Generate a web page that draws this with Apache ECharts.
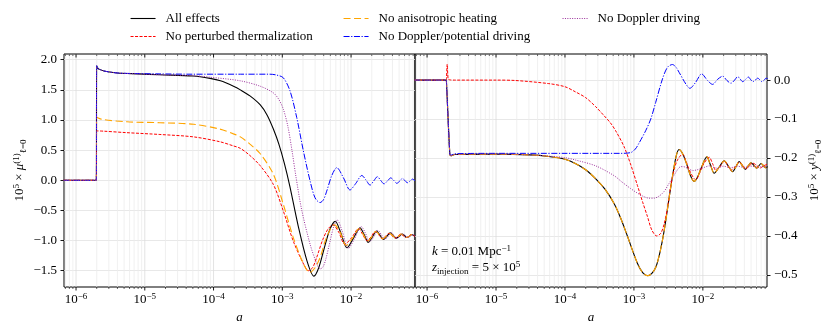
<!DOCTYPE html>
<html>
<head>
<meta charset="utf-8">
<script src="https://cdn.jsdelivr.net/npm/echarts@6/dist/echarts.min.js"></script>
<style>
  html, body { margin: 0; padding: 0; background: #fff; }
  #chart { width: 831px; height: 331px; }
</style>
</head>
<body>
<div id="chart"></div>
<script>

// left panel: 10^5 x mu
const muAll = [[-6.18,0],[-5.72,0],[-5.705,0],[-5.70,1.90],[-5.69,1.87],[-5.66,1.84],[-5.58,1.81],[-5.40,1.78],[-5.10,1.765],[-4.78,1.75],[-4.30,1.73],[-4.05,1.69],[-3.90,1.65],[-3.71,1.56],[-3.61,1.50],[-3.47,1.40],[-3.32,1.25],[-3.22,1.08],[-3.13,0.85],[-3.05,0.60],[-2.97,0.28],[-2.89,-0.10],[-2.77,-0.75],[-2.64,-1.34],[-2.54,-1.59],[-2.47,-1.45],[-2.40,-1.17],[-2.31,-0.82],[-2.23,-0.68],[-2.15,-0.87],[-2.06,-1.12],[-1.97,-0.97],[-1.87,-0.79],[-1.81,-0.90],[-1.75,-1.03],[-1.69,-0.94],[-1.63,-0.84],[-1.58,-0.91],[-1.53,-0.98],[-1.48,-0.93],[-1.43,-0.87],[-1.39,-0.92],[-1.345,-0.96],[-1.30,-0.93],[-1.26,-0.89],[-1.22,-0.92],[-1.19,-0.95],[-1.15,-0.93],[-1.12,-0.90],[-1.07,-0.93]];
const muNoTherm = [[-6.18,0],[-5.72,0],[-5.705,0],[-5.70,0.82],[-5.69,0.82],[-5.60,0.815],[-5.26,0.79],[-4.78,0.76],[-4.29,0.72],[-3.91,0.64],[-3.71,0.57],[-3.61,0.53],[-3.47,0.41],[-3.32,0.24],[-3.13,-0.07],[-2.985,-0.51],[-2.84,-1.01],[-2.69,-1.39],[-2.62,-1.50],[-2.56,-1.45],[-2.50,-1.28],[-2.41,-0.98],[-2.33,-0.80],[-2.26,-0.74],[-2.18,-0.86],[-2.09,-1.06],[-1.99,-0.95],[-1.89,-0.80],[-1.83,-0.90],[-1.77,-1.00],[-1.71,-0.94],[-1.65,-0.85],[-1.60,-0.90],[-1.55,-0.97],[-1.50,-0.93],[-1.45,-0.88],[-1.40,-0.92],[-1.36,-0.96],[-1.32,-0.93],[-1.28,-0.89],[-1.24,-0.92],[-1.20,-0.95],[-1.16,-0.93],[-1.13,-0.90],[-1.07,-0.93]];
const muNoAniso = [[-6.18,0],[-5.72,0],[-5.705,0],[-5.70,1.05],[-5.69,1.04],[-5.62,1.01],[-5.26,0.97],[-4.78,0.955],[-4.29,0.93],[-3.91,0.85],[-3.71,0.77],[-3.61,0.72],[-3.47,0.60],[-3.32,0.44],[-3.13,0.10],[-2.985,-0.40],[-2.84,-0.95],[-2.69,-1.39],[-2.60,-1.53],[-2.53,-1.46],[-2.45,-1.28],[-2.38,-1.02],[-2.305,-0.82],[-2.24,-0.74],[-2.16,-0.86],[-2.07,-1.08],[-1.98,-0.96],[-1.88,-0.80],[-1.82,-0.90],[-1.76,-1.01],[-1.70,-0.94],[-1.64,-0.85],[-1.59,-0.90],[-1.54,-0.97],[-1.49,-0.93],[-1.44,-0.88],[-1.39,-0.92],[-1.35,-0.96],[-1.31,-0.93],[-1.27,-0.89],[-1.23,-0.92],[-1.19,-0.95],[-1.15,-0.93],[-1.12,-0.90],[-1.07,-0.93]];
const muNoDopPot = [[-6.18,0],[-5.72,0],[-5.705,0],[-5.70,1.90],[-5.69,1.87],[-5.66,1.84],[-5.58,1.81],[-5.40,1.78],[-5.10,1.77],[-4.78,1.765],[-4.30,1.76],[-3.61,1.76],[-3.18,1.76],[-3.08,1.745],[-2.985,1.70],[-2.887,1.48],[-2.79,1.04],[-2.694,0.49],[-2.596,-0.01],[-2.524,-0.29],[-2.451,-0.37],[-2.40,-0.32],[-2.354,-0.18],[-2.28,0.08],[-2.208,0.21],[-2.11,0.04],[-2.015,-0.16],[-1.93,-0.05],[-1.844,0.08],[-1.78,0.0],[-1.724,-0.08],[-1.67,-0.01],[-1.617,0.06],[-1.57,0.0],[-1.52,-0.06],[-1.47,-0.01],[-1.423,0.04],[-1.38,0.0],[-1.335,-0.05],[-1.29,-0.01],[-1.254,0.03],[-1.22,0.0],[-1.181,-0.04],[-1.14,-0.01],[-1.108,0.02],[-1.07,-0.01]];
const muNoDop = [[-6.18,0],[-5.72,0],[-5.705,0],[-5.70,1.90],[-5.69,1.87],[-5.66,1.84],[-5.58,1.81],[-5.40,1.78],[-5.10,1.765],[-4.78,1.75],[-4.30,1.735],[-4.05,1.71],[-3.61,1.65],[-3.32,1.56],[-3.13,1.45],[-3.05,1.34],[-2.985,1.18],[-2.92,0.90],[-2.86,0.50],[-2.80,0.05],[-2.72,-0.48],[-2.596,-1.06],[-2.50,-1.38],[-2.45,-1.47],[-2.41,-1.44],[-2.37,-1.32],[-2.305,-1.01],[-2.25,-0.76],[-2.20,-0.66],[-2.13,-0.84],[-2.04,-1.13],[-1.95,-0.97],[-1.85,-0.77],[-1.79,-0.88],[-1.73,-1.02],[-1.67,-0.94],[-1.61,-0.83],[-1.56,-0.90],[-1.51,-0.98],[-1.46,-0.93],[-1.41,-0.87],[-1.37,-0.92],[-1.33,-0.96],[-1.29,-0.93],[-1.25,-0.89],[-1.21,-0.92],[-1.17,-0.95],[-1.14,-0.93],[-1.10,-0.90],[-1.07,-0.93]];

// right panel: 10^5 x y
const yAll = [[-6.18,0],[-5.72,0],[-5.713,0],[-5.67,-0.19],[-5.655,-0.194],[-5.60,-0.191],[-5.00,-0.19],[-4.50,-0.192],[-4.235,-0.196],[-4.00,-0.203],[-3.85,-0.214],[-3.70,-0.23],[-3.55,-0.254],[-3.42,-0.28],[-3.29,-0.316],[-3.19,-0.355],[-3.095,-0.40],[-2.95,-0.47],[-2.87,-0.495],[-2.80,-0.502],[-2.74,-0.496],[-2.68,-0.479],[-2.62,-0.44],[-2.56,-0.385],[-2.465,-0.274],[-2.39,-0.197],[-2.345,-0.178],[-2.29,-0.19],[-2.236,-0.215],[-2.18,-0.245],[-2.127,-0.26],[-2.08,-0.25],[-2.03,-0.228],[-1.942,-0.197],[-1.889,-0.218],[-1.836,-0.239],[-1.763,-0.223],[-1.69,-0.207],[-1.63,-0.221],[-1.568,-0.235],[-1.52,-0.222],[-1.472,-0.209],[-1.43,-0.219],[-1.385,-0.229],[-1.343,-0.22],[-1.302,-0.212],[-1.26,-0.219],[-1.219,-0.226],[-1.188,-0.22],[-1.156,-0.214],[-1.12,-0.22],[-1.09,-0.225],[-1.06,-0.222]];
const yNoTherm = [[-6.18,0],[-5.72,0],[-5.713,0],[-5.708,0.041],[-5.70,0.015],[-5.69,0.002],[-5.60,0.0],[-5.00,0.0],[-4.72,-0.001],[-4.235,-0.009],[-4.00,-0.017],[-3.85,-0.03],[-3.70,-0.045],[-3.556,-0.068],[-3.44,-0.09],[-3.34,-0.11],[-3.265,-0.13],[-3.145,-0.17],[-3.05,-0.215],[-2.95,-0.27],[-2.87,-0.315],[-2.804,-0.35],[-2.74,-0.385],[-2.669,-0.40],[-2.61,-0.393],[-2.563,-0.37],[-2.51,-0.325],[-2.465,-0.27],[-2.41,-0.225],[-2.368,-0.205],[-2.295,-0.19],[-2.25,-0.205],[-2.199,-0.23],[-2.102,-0.256],[-2.05,-0.24],[-2.004,-0.22],[-1.908,-0.198],[-1.86,-0.214],[-1.811,-0.232],[-1.75,-0.222],[-1.69,-0.208],[-1.64,-0.219],[-1.593,-0.231],[-1.53,-0.222],[-1.472,-0.211],[-1.42,-0.219],[-1.375,-0.228],[-1.33,-0.221],[-1.277,-0.213],[-1.22,-0.219],[-1.17,-0.226],[-1.12,-0.22],[-1.06,-0.216]];
const yNoAniso = yAll; // lies exactly on top of the black curve
const yNoDopPot = [[-6.18,0],[-5.72,0],[-5.713,0],[-5.67,-0.19],[-5.655,-0.193],[-5.60,-0.189],[-5.00,-0.188],[-4.00,-0.188],[-3.20,-0.188],[-3.047,-0.186],[-2.98,-0.177],[-2.927,-0.162],[-2.83,-0.13],[-2.756,-0.10],[-2.684,-0.057],[-2.586,0.003],[-2.513,0.033],[-2.441,0.04],[-2.39,0.033],[-2.345,0.02],[-2.247,-0.01],[-2.189,-0.021],[-2.102,-0.005],[-2.019,0.016],[-1.932,-0.001],[-1.859,-0.011],[-1.786,0.002],[-1.713,0.01],[-1.651,-0.001],[-1.593,-0.008],[-1.54,0.0],[-1.495,0.009],[-1.46,0.003],[-1.423,-0.004],[-1.38,0.002],[-1.341,0.008],[-1.31,0.002],[-1.277,-0.004],[-1.24,0.0],[-1.204,0.005],[-1.17,0.0],[-1.142,-0.004],[-1.11,0.0],[-1.084,0.005],[-1.06,0.004]];
const yNoDop = [[-6.18,0],[-5.72,0],[-5.713,0],[-5.67,-0.19],[-5.655,-0.194],[-5.60,-0.191],[-5.00,-0.19],[-4.50,-0.192],[-4.235,-0.195],[-4.00,-0.199],[-3.85,-0.205],[-3.556,-0.22],[-3.29,-0.245],[-3.17,-0.262],[-3.05,-0.278],[-2.95,-0.29],[-2.856,-0.299],[-2.78,-0.303],[-2.708,-0.303],[-2.63,-0.297],[-2.563,-0.286],[-2.49,-0.265],[-2.417,-0.244],[-2.36,-0.228],[-2.32,-0.222],[-2.26,-0.223],[-2.20,-0.229],[-2.14,-0.232],[-2.08,-0.23],[-1.98,-0.224],[-1.90,-0.22],[-1.80,-0.226],[-1.70,-0.221],[-1.60,-0.225],[-1.50,-0.221],[-1.40,-0.224],[-1.30,-0.221],[-1.20,-0.223],[-1.06,-0.222]];

const names = ['All effects', 'No perturbed thermalization', 'No anisotropic heating', 'No Doppler/potential driving', 'No Doppler driving'];
const leftData = [muAll, muNoTherm, muNoAniso, muNoDopPot, muNoDop];
const rightData = [yAll, yNoTherm, yNoAniso, yNoDopPot, yNoDop];
const majorX = [-6, -5, -4, -3, -2];
const leftTicks = [-1.5, -1.0, -0.5, 0.0, 0.5, 1.0, 1.5, 2.0];
const rightTicks = [-0.5, -0.4, -0.3, -0.2, -0.1, 0.0];

const FONT = 'Liberation Serif';
const xMin = -6.175, xMax = -1.07;

const lineStyles = [
    { color: '#000000', width: 1.1, type: 'solid' },
    { color: '#ff0000', width: 1, type: [3, 1.5] },
    { color: '#ffa500', width: 1.1, type: [7, 3.5] },
    { color: '#0000ff', width: 1, type: [6, 1.6, 1.2, 1.6] },
    { color: '#9b309b', width: 1, type: [1, 1.4] }
];

// minor ticks of the log axis (2..9 x 10^n)
const gridMarks = majorX.map(v => [v, 1]);
for (let n = -7; n <= -2; n++) {
    for (let k = 2; k <= 9; k++) {
        const v = n + Math.log10(k);
        if (v > xMin && v < xMax) gridMarks.push([v, 0]);
    }
}

function gridLines(params, api) {
    const cs = params.coordSys;
    const x = api.coord([api.value(0), 0])[0];
    const major = api.value(1) === 1;
    const top = cs.y, bot = cs.y + cs.height;
    const t = major ? 3.5 : 2;
    const lw = major ? 0.9 : 0.6;
    return {
        type: 'group',
        silent: true,
        children: [
            { type: 'line', shape: { x1: x, y1: top, x2: x, y2: bot }, style: { stroke: major ? '#dcdcdc' : '#ececec', lineWidth: 0.8 } },
            { type: 'line', shape: { x1: x, y1: bot, x2: x, y2: bot + t }, style: { stroke: '#000', lineWidth: lw } },
            { type: 'line', shape: { x1: x, y1: top, x2: x, y2: top + t }, style: { stroke: '#000', lineWidth: lw } }
        ]
    };
}

const supRich = {
    sup: { fontFamily: FONT, fontSize: 9, verticalAlign: 'top', lineHeight: 16 },
    sub: { fontFamily: FONT, fontSize: 9, verticalAlign: 'bottom', lineHeight: 16 },
    i: { fontFamily: FONT, fontSize: 13, fontStyle: 'italic', lineHeight: 16 }
};

function xAxisFor(idx) {
    return {
        type: 'value', gridIndex: idx, min: xMin, max: xMax,
        axisLine: { show: false },
        axisTick: { show: false },
        splitLine: { show: false },
        axisLabel: {
            customValues: majorX, margin: 5, color: '#000',
            fontFamily: FONT, fontSize: 13,
            formatter: v => '10{sup|−' + Math.abs(v) + '}',
            rich: supRich
        },
        name: 'a', nameLocation: 'middle', nameGap: 22,
        nameTextStyle: { fontFamily: FONT, fontSize: 13, fontStyle: 'italic', color: '#000' }
    };
}

const fmtY = v => (v < 0 ? '−' : '') + Math.abs(v).toFixed(1);

const series = [];
[leftData, rightData].forEach(function (set, idx) {
    series.push({
        type: 'custom', xAxisIndex: idx, yAxisIndex: idx, silent: true, z: 1,
        renderItem: gridLines, data: gridMarks, animation: false
    });
    set.forEach(function (d, i) {
        series.push({
            name: names[i], type: 'line', xAxisIndex: idx, yAxisIndex: idx,
            data: d, symbol: 'none', smooth: 0.3, z: 3,
            color: lineStyles[i].color, lineStyle: lineStyles[i]
        });
    });
});

const legendBase = {
    orient: 'vertical', top: 12, padding: 0, itemWidth: 25, itemHeight: 14, itemGap: 5,
    itemStyle: { opacity: 0 },
    lineStyle: { width: 1.1 },
    textStyle: { fontFamily: FONT, fontSize: 13, color: '#000', padding: [0, 0, 0, 5] }
};

const chart = echarts.init(document.getElementById('chart'), null, { renderer: 'canvas' });
chart.setOption({
    animation: false,
    backgroundColor: '#fff',
    legend: [
        Object.assign({ left: 130, data: [names[0], names[1]] }, legendBase),
        Object.assign({ left: 343, data: [names[2], names[3]] }, legendBase),
        Object.assign({ left: 562, data: [names[4]] }, legendBase)
    ],
    grid: [
        { left: 64, right: 416, top: 54, bottom: 44, show: true, borderColor: '#000', borderWidth: 1, backgroundColor: 'transparent' },
        { left: 415, right: 64, top: 54, bottom: 44, show: true, borderColor: '#000', borderWidth: 1, backgroundColor: 'transparent' }
    ],
    xAxis: [xAxisFor(0), xAxisFor(1)],
    yAxis: [
        {
            type: 'value', gridIndex: 0, min: -1.77, max: 2.095, position: 'left',
            axisLine: { show: false },
            axisTick: { show: true, customValues: leftTicks, length: 3.5, lineStyle: { color: '#000', width: 0.9 } },
            axisLabel: { customValues: leftTicks, formatter: fmtY, margin: 7, color: '#000', fontFamily: FONT, fontSize: 13 },
            splitLine: { show: true, lineStyle: { color: '#e2e2e2', width: 0.8 } },
            name: '10{sup|5} × {i|μ}{sup|(1)}{sub|ℓ=0}', nameLocation: 'middle', nameRotate: 90, nameGap: 36,
            nameTextStyle: { fontFamily: FONT, fontSize: 13, color: '#000', rich: supRich }
        },
        {
            type: 'value', gridIndex: 1, min: -0.531, max: 0.067, position: 'right',
            axisLine: { show: false },
            axisTick: { show: true, customValues: rightTicks, length: 3.5, lineStyle: { color: '#000', width: 0.9 } },
            axisLabel: { customValues: rightTicks, formatter: fmtY, margin: 7, color: '#000', fontFamily: FONT, fontSize: 13 },
            splitLine: { show: true, lineStyle: { color: '#e2e2e2', width: 0.8 } },
            name: '10{sup|5} × {i|y}{sup|(1)}{sub|ℓ=0}', nameLocation: 'middle', nameRotate: 90, nameGap: 40,
            nameTextStyle: { fontFamily: FONT, fontSize: 13, color: '#000', rich: supRich }
        }
    ],
    graphic: [{
        type: 'text', left: 432, top: 244, z: 10,
        style: {
            text: '{i|k} = 0.01 Mpc{sup|−1}\n{i|z}{sub|injection} = 5 × 10{sup|5}',
            fontFamily: FONT, fontSize: 13, fill: '#000', lineHeight: 16,
            rich: supRich
        }
    }],
    series: series
});
</script>
</body>
</html>
